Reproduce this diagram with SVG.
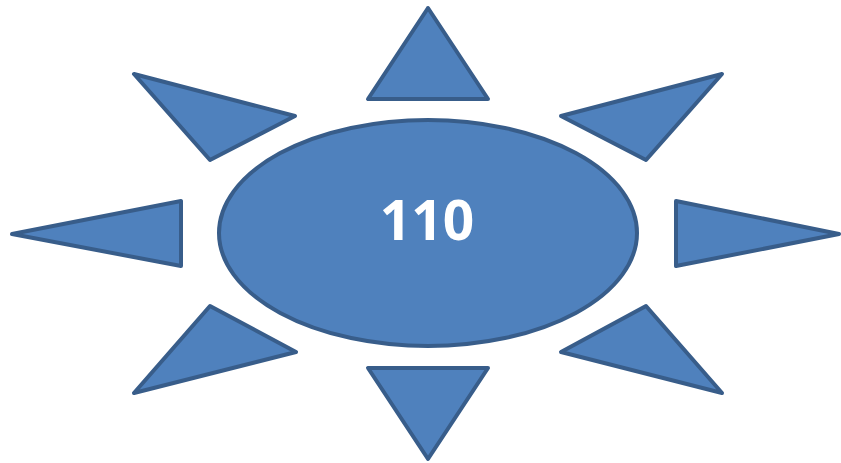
<svg xmlns="http://www.w3.org/2000/svg" width="841" height="463" viewBox="0 0 841 463">
<style>
.s{fill:#4F81BD;stroke:#385D8A;stroke-width:4;stroke-linejoin:round}
.t{font-family:"Open Sans","Liberation Sans",sans-serif;font-weight:700;font-size:55px;fill:#FFFFFF;text-anchor:middle}
</style>
<rect width="841" height="463" fill="#FFFFFF"/>
<g id="ray-top"><polygon class="s" points="428,8 368,99 488,99"/></g>
<g id="ray-top-left"><polygon class="s" points="134,74 295,116 210,160"/></g>
<g id="ray-left"><polygon class="s" points="12,234 181,201 181,266"/></g>
<g id="ray-top-right"><polygon class="s" points="722,74 561,116 646,160"/></g>
<g id="ray-right"><polygon class="s" points="676,201 839,234 676,266"/></g>
<g id="ray-bottom-left"><polygon class="s" points="210,306 296,352 134,393"/></g>
<g id="ray-bottom-right"><polygon class="s" points="646,306 561,352 722,393"/></g>
<g id="ray-bottom"><polygon class="s" points="368,368 488,368 428,459"/></g>
<g id="sun"><ellipse class="s" cx="428" cy="233" rx="209" ry="113"/><text class="t" x="427" y="240">110</text></g>
<g id="connectors"/>
</svg>
